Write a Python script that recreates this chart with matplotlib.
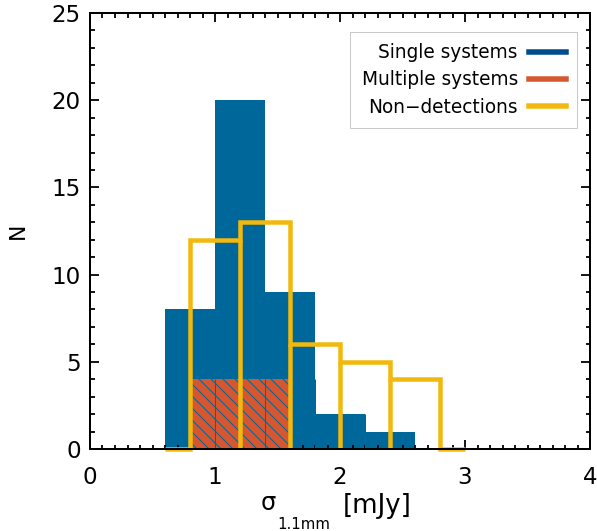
import matplotlib
matplotlib.use("Agg")
import matplotlib.pyplot as plt
from matplotlib.lines import Line2D
from matplotlib.ticker import MultipleLocator

plt.rcParams['font.family'] = ['DejaVu Sans']
plt.rcParams['hatch.linewidth'] = 1.0

# histogram data (bin edges in mJy, counts)
single_edges = [0.6, 1.0, 1.4, 1.8, 2.2, 2.6]
single_counts = [8, 20, 9, 2, 1]

multiple_edges = [0.8, 1.2, 1.6]
multiple_counts = [4, 4]

nondet_edges = [0.6, 0.8, 1.2, 1.6, 2.0, 2.4, 2.8, 3.0]
nondet_counts = [0, 12, 13, 6, 5, 4, 0]

labels = ["Single systems", "Multiple systems", "Non\u2212detections"]

c_blue = "#00679b"
c_blue_leg = "#004c8c"
c_orange = "#d4572f"
c_yellow = "#f2b80d"

W, H = 597, 531
fig = plt.figure(figsize=(W / 72, H / 72), dpi=72)
ax = fig.add_axes([90 / W, 1 - 449 / H, 500 / W, 436 / H])

ax.stairs(single_counts, single_edges, fill=True, color=c_blue, zorder=1)
ax.stairs(multiple_counts, multiple_edges, fill=True, facecolor=c_orange,
          edgecolor=c_blue, hatch='\\\\', linewidth=0, zorder=2)
# thin bar edges of the single systems drawn over the hatched area
for e, h in zip(single_edges[1:-1], single_counts):
    ax.vlines(e, 0, min(h, max(multiple_counts)), color=c_blue, linewidth=1.0, zorder=2.5)

# non-detections: step outline with every bin edge dropped to zero
ax.stairs(nondet_counts, nondet_edges, fill=False, color=c_yellow,
          linewidth=4.5, zorder=3, clip_on=False)
inner = nondet_edges[1:-1]
drop = [min(a, b) for a, b in zip(nondet_counts[:-1], nondet_counts[1:])]
ax.vlines(inner, 0, drop, color=c_yellow, linewidth=4.5, zorder=3)

ax.set_xlim(0, 4)
ax.set_ylim(0, 25)
ax.xaxis.set_major_locator(MultipleLocator(1))
ax.xaxis.set_minor_locator(MultipleLocator(0.1))
ax.yaxis.set_major_locator(MultipleLocator(5))
ax.yaxis.set_minor_locator(MultipleLocator(1))
ax.tick_params(which='both', direction='in', top=True, right=True, width=1.8,
               labelsize=23)
ax.tick_params(which='major', length=9)
ax.tick_params(which='minor', length=4.5)
ax.tick_params(axis='x', pad=17)
ax.tick_params(axis='y', pad=9)
for s in ax.spines.values():
    s.set_linewidth(2)
    s.set_zorder(5)

ax.set_ylabel("N", fontsize=22, labelpad=24)

# x label built from pieces: sigma, lowered subscript, unit
fig.text(268 / W, 1 - 510 / H, "\u03c3", fontsize=24, ha='center', va='baseline')
fig.text(277 / W, 1 - 529 / H, "1.1mm", fontsize=15, ha='left', va='baseline')
fig.text(343 / W, 1 - 513 / H, "[mJy]", fontsize=26, ha='left', va='baseline')

handles = [Line2D([], [], color=c, linewidth=5.5) for c in (c_blue_leg, c_orange, c_yellow)]
leg = ax.legend(handles, labels, loc='upper right', bbox_to_anchor=(487 / 500, 417 / 436),
                markerfirst=False, fontsize=18.5, frameon=True, fancybox=False,
                edgecolor="#c8c8c8", framealpha=1, handlelength=2.0,
                handletextpad=0.6, labelspacing=0.45, borderpad=0.6,
                borderaxespad=0)
leg.get_frame().set_linewidth(1.0)

fig.savefig("out.png", dpi=72)
